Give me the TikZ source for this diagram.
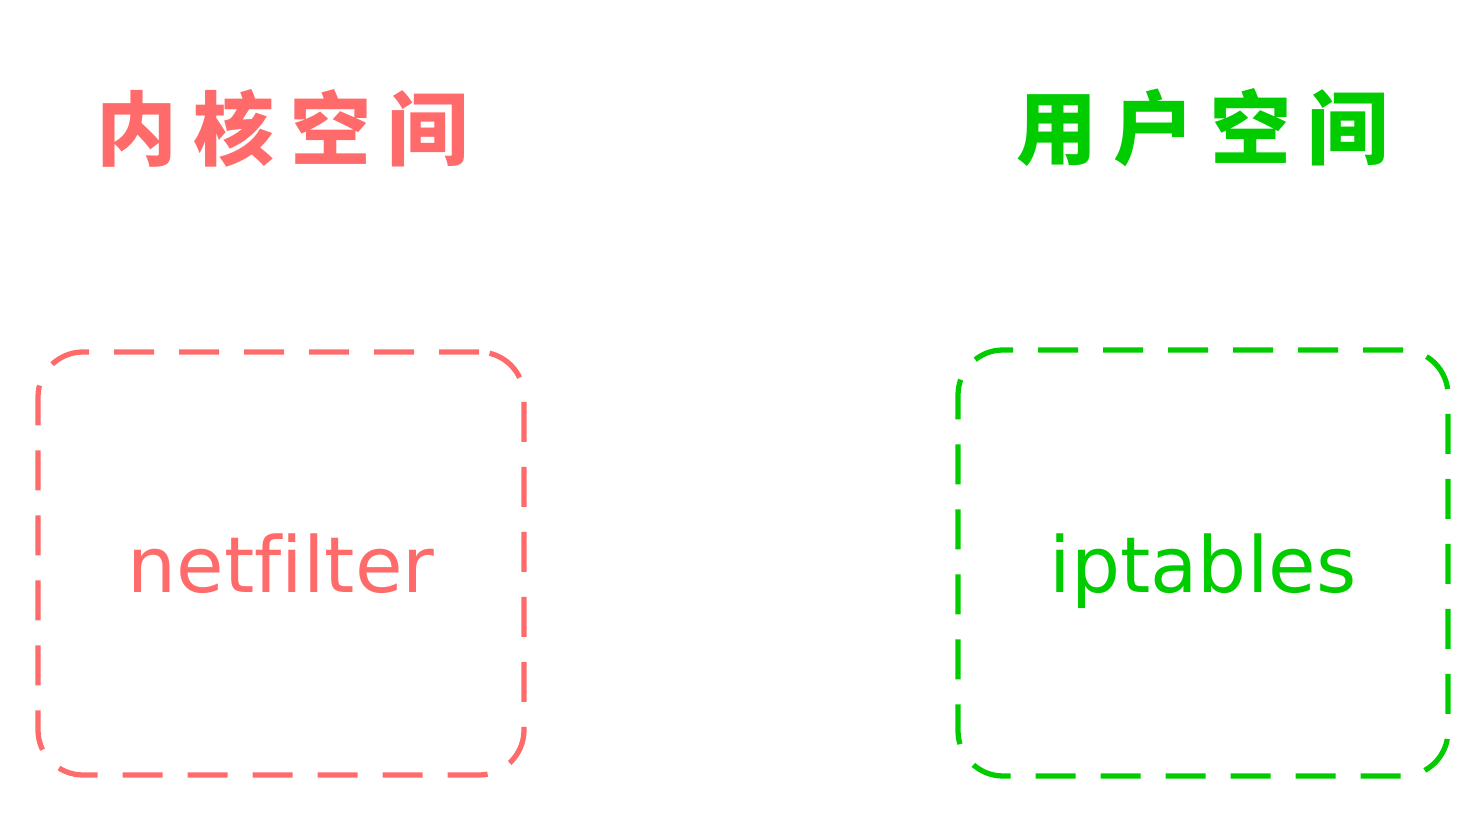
\documentclass[tikz,border=0pt]{standalone}
\usepackage{fontspec}
\setmainfont[Ligatures=NoCommon]{DejaVu Sans}
\newfontfamily\cjk[LetterSpace=20]{Noto Sans CJK SC}
\definecolor{kernred}{RGB}{255,107,107}
\definecolor{usergreen}{RGB}{0,204,0}
\begin{document}
\begin{tikzpicture}[inner sep=0pt,outer sep=0pt,
spacebox/.style={draw,rectangle,rounded corners=0.9cm,line width=3pt,dash pattern=on 0.8cm off 0.5cm,text depth=0pt,font=\fontsize{44}{52}\selectfont},
spacetitle/.style={font=\cjk\bfseries\fontsize{46}{54}\selectfont}]
\useasboundingbox (0,0) rectangle (29.68,16.32);
\draw (5.64,13.76) node[spacetitle,text=kernred] (kerntitle) {内核空间};
\draw (24.04,13.76) node[spacetitle,text=usergreen] (usertitle) {用户空间};
\draw (5.62,5.05) node[spacebox,kernred,minimum width=9.72cm,minimum height=8.46cm] (netfilter) {netfilter};
\draw (24.06,5.06) node[spacebox,usergreen,minimum width=9.8cm,minimum height=8.52cm] (iptables) {iptables};
\end{tikzpicture}
\end{document}
